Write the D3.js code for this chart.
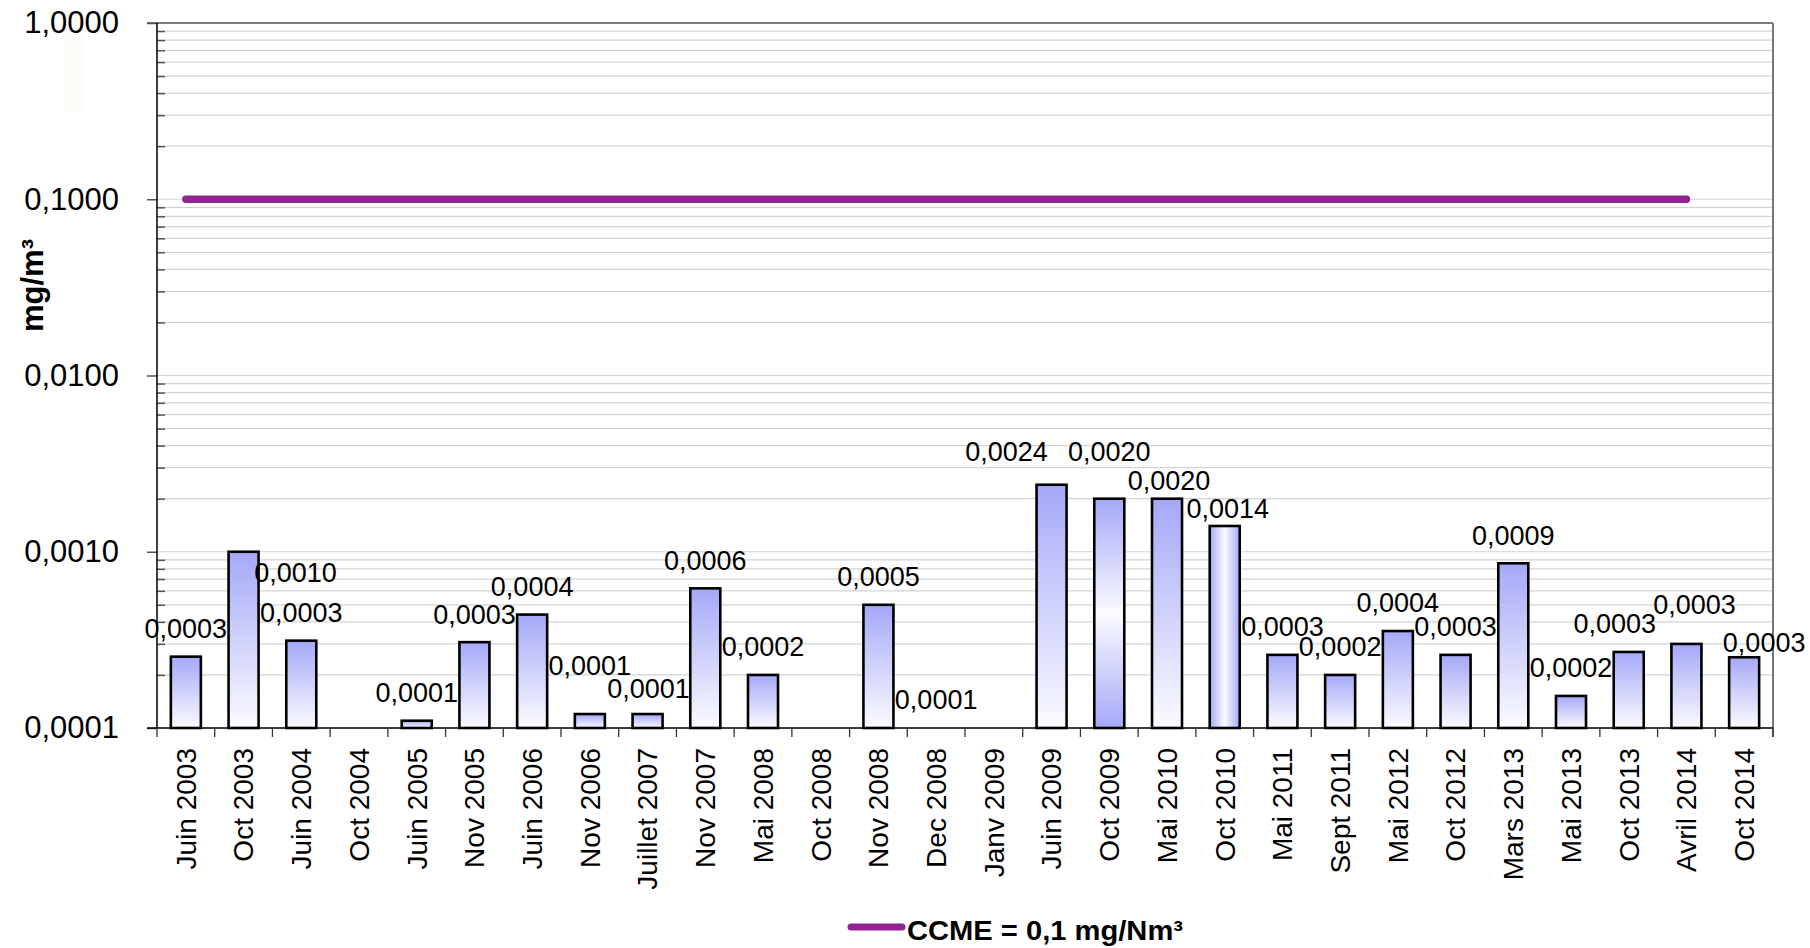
<!DOCTYPE html>
<meta charset="utf-8">
<style>
body { margin: 0; background: #fff; }
text { font-family: "Liberation Sans", Arial, sans-serif; fill: #000; }
.grid line { stroke: #d3d3d3; stroke-width: 1.2px; }
.yaxis path, .xaxis path { display: none; }
.yaxis line { stroke: #555; stroke-width: 1.5px; }
.lbl { font-size: 27px; }
.xlbl { font-size: 28px; }
</style>
<body>
<svg id="chart" width="1810" height="948"></svg>
<script src="https://cdn.jsdelivr.net/npm/d3@7"></script>
<script>
// sampling campaigns
var categories = ["Juin 2003", "Oct 2003", "Juin 2004", "Oct 2004", "Juin 2005", "Nov 2005",
  "Juin 2006", "Nov 2006", "Juillet 2007", "Nov 2007", "Mai 2008", "Oct 2008", "Nov 2008",
  "Dec 2008", "Janv 2009", "Juin 2009", "Oct 2009", "Mai 2010", "Oct 2010", "Mai 2011",
  "Sept 2011", "Mai 2012", "Oct 2012", "Mars 2013", "Mai 2013", "Oct 2013", "Avril 2014", "Oct 2014"];

// measured concentrations, mg/m3 (null = no result)
var values = [0.000254, 0.001, 0.000313, null, 0.00011, 0.000307,
  0.00044, 0.00012, 0.00012, 0.00062, 0.0002, null, 0.0005,
  0.0001, null, 0.0024, 0.002, 0.002, 0.0014, 0.00026,
  0.0002, 0.000355, 0.00026, 0.00086, 0.000152, 0.00027, 0.0003, 0.000252];

// CCME criterion line
var ccme = [0.1, 0.1, 0.1, 0.1, 0.1, 0.1, 0.1, 0.1, 0.1, 0.1, 0.1, 0.1, 0.1, 0.1,
  0.1, 0.1, 0.1, 0.1, 0.1, 0.1, 0.1, 0.1, 0.1, 0.1, 0.1, 0.1, 0.1, null];

var yTicks = [0.0001, 0.001, 0.01, 0.1, 1];
var legendLabel = "CCME = 0,1 mg/Nm³";

// labels that were dragged around by hand in the original
var labelNudge = {
  "Oct 2003": [52, 49], "Nov 2006": [0, -20], "Juillet 2007": [1, 3],
  "Juin 2009": [-45, -5], "Oct 2009": [0, -19], "Mai 2010": [2, 10],
  "Oct 2010": [3, 11], "Oct 2013": [-14, 0], "Avril 2014": [8, -11], "Oct 2014": [20, 13]
};
var barFill = { "Oct 2009": "url(#gMirror)", "Oct 2010": "url(#gHoriz)" };

var plotL = 157, plotR = 1773, plotT = 23, plotB = 728;
var svg = d3.select("#chart");

var x = d3.scaleBand().domain(categories).range([plotL, plotR])
  .paddingInner(0.48).paddingOuter(0.24);
var y = d3.scaleLog().domain([0.0001, 1]).range([plotB, plotT]);
var fmt = d3.format(".4f");
function frLabel(v) { return fmt(v).replace(".", ","); }

// gradients
var defs = svg.append("defs");
function grad(id, x2, y2, stops) {
  var g = defs.append("linearGradient").attr("id", id)
    .attr("x1", 0).attr("y1", 0).attr("x2", x2).attr("y2", y2);
  stops.forEach(function (s) {
    g.append("stop").attr("offset", s[0]).attr("stop-color", s[1]);
  });
}
grad("gVert", 0, 1, [[0, "#a5a8f8"], [1, "#fbfbff"]]);
grad("gMirror", 0, 1, [[0, "#a5a8f8"], [0.5, "#fbfbff"], [1, "#a5a8f8"]]);
grad("gHoriz", 1, 0, [[0, "#a5a8f8"], [0.5, "#fbfbff"], [1, "#a5a8f8"]]);

// faint smudge in the original
svg.append("rect").attr("x", 64).attr("y", 12).attr("width", 22).attr("height", 100)
  .attr("fill", "#fcfcf8");

// gridlines: every 1..9 of each decade
var minors = [];
for (var e = -4; e < 0; e++) for (var k = 1; k < 10; k++) minors.push(k * Math.pow(10, e));
minors.push(1);
svg.append("g").attr("class", "grid").selectAll("line").data(minors).join("line")
  .attr("x1", plotL).attr("x2", plotR)
  .attr("y1", function (d) { return y(d); }).attr("y2", function (d) { return y(d); });

// minor ticks inside the axis
svg.append("g").attr("class", "yaxis").attr("transform", "translate(" + plotL + ",0)")
  .call(d3.axisLeft(y).tickValues(minors.filter(function (d) { return yTicks.indexOf(d) < 0; }))
    .tickSize(-8).tickFormat(""));

// major ticks + labels
var yAx = svg.append("g").attr("class", "yaxis").attr("transform", "translate(" + plotL + ",0)")
  .call(d3.axisLeft(y).tickValues(yTicks).tickSize(10).tickPadding(28).tickFormat(frLabel));
yAx.selectAll("text").style("font-size", "31px").style("font-family", "Liberation Sans, Arial, sans-serif")
  .attr("fill", "#000");

// frame
svg.append("line").attr("x1", plotL - 10).attr("x2", plotR).attr("y1", plotT).attr("y2", plotT)
  .attr("stroke", "#555").attr("stroke-width", 1.5);
svg.append("line").attr("x1", plotR).attr("x2", plotR).attr("y1", plotT).attr("y2", plotB + 9)
  .attr("stroke", "#777").attr("stroke-width", 2);
svg.append("line").attr("x1", plotL).attr("x2", plotL).attr("y1", plotT).attr("y2", plotB)
  .attr("stroke", "#000").attr("stroke-width", 1.5);

// bars
var barData = categories.map(function (c, i) { return { c: c, v: values[i], line: ccme[i] }; });
svg.append("g").selectAll("rect").data(barData.filter(function (d) { return d.v != null; }))
  .join("rect")
  .attr("x", function (d) { return x(d.c); })
  .attr("width", x.bandwidth())
  .attr("y", function (d) { return y(d.v); })
  .attr("height", function (d) { return plotB - y(d.v); })
  .attr("fill", function (d) { return barFill[d.c] || "url(#gVert)"; })
  .attr("stroke", "#000").attr("stroke-width", 2.6);

// x axis line and category boundary ticks
svg.append("line").attr("x1", plotL - 10).attr("x2", plotR).attr("y1", plotB).attr("y2", plotB)
  .attr("stroke", "#000").attr("stroke-width", 1.5);
var step = x.step();
svg.append("g").selectAll("line").data(d3.range(categories.length + 1)).join("line")
  .attr("x1", function (i) { return plotL + i * step; })
  .attr("x2", function (i) { return plotL + i * step; })
  .attr("y1", plotB).attr("y2", plotB + 9)
  .attr("stroke", "#333").attr("stroke-width", 1.3);

// rotated category labels
svg.append("g").selectAll("text").data(categories).join("text")
  .attr("class", "xlbl")
  .attr("text-anchor", "end")
  .attr("dy", "0.35em")
  .attr("transform", function (d) {
    return "translate(" + (x(d) + x.bandwidth() / 2) + "," + (plotB + 20) + ") rotate(-90)";
  })
  .text(function (d) { return d; });

// CCME line
var line = d3.line()
  .defined(function (d) { return d.line != null; })
  .x(function (d) { return x(d.c) + x.bandwidth() / 2; })
  .y(function (d) { return y(d.line); });
svg.append("path").datum(barData).attr("d", line)
  .attr("fill", "none").attr("stroke", "#932390").attr("stroke-width", 7.5)
  .attr("stroke-linecap", "round");

// data labels
svg.append("g").selectAll("text").data(barData.filter(function (d) { return d.v != null; }))
  .join("text")
  .attr("class", "lbl")
  .attr("text-anchor", "middle")
  .attr("dy", "0.35em")
  .attr("x", function (d) { return x(d.c) + x.bandwidth() / 2 + (labelNudge[d.c] ? labelNudge[d.c][0] : 0); })
  .attr("y", function (d) { return y(d.v) - 28 + (labelNudge[d.c] ? labelNudge[d.c][1] : 0); })
  .text(function (d) { return frLabel(d.v); });

// y title
svg.append("text").attr("transform", "translate(32," + ((plotT + plotB) / 2 - 90) + ") rotate(-90)")
  .attr("text-anchor", "middle").attr("dy", "0.35em")
  .style("font-size", "31px").style("font-weight", "bold")
  .text("mg/m³");

// legend
var lg = svg.append("g").attr("transform", "translate(0,927)");
lg.append("line").attr("x1", 851).attr("x2", 902).attr("y1", 0).attr("y2", 0)
  .attr("stroke", "#932390").attr("stroke-width", 7).attr("stroke-linecap", "round");
lg.append("text").attr("x", 907).attr("y", 13)
  .style("font-size", "27px").style("font-weight", "bold")
  .attr("textLength", 276).attr("lengthAdjust", "spacingAndGlyphs")
  .text(legendLabel);
</script>
</body>
